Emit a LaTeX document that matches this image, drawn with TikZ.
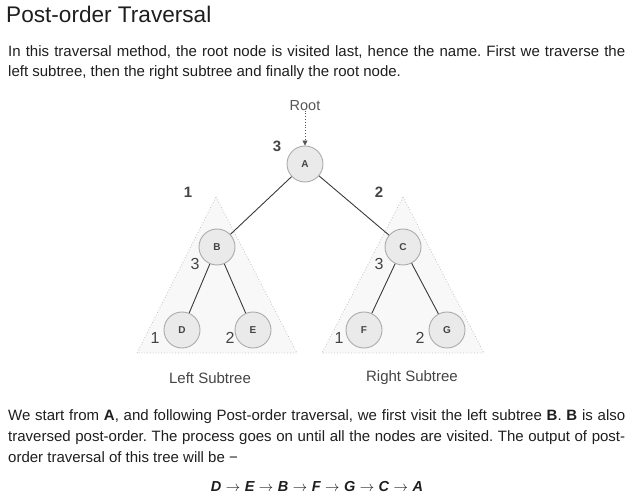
\documentclass[tikz,border=0pt]{standalone}
\usepackage{fontspec}
\setmainfont{Liberation Sans}
\usetikzlibrary{positioning, arrows.meta}
\definecolor{bodytext}{HTML}{1E1E1E}
\definecolor{ringgray}{HTML}{ABABAB}
\definecolor{nodefill}{HTML}{EAEAEA}
\definecolor{trigray}{HTML}{C4C4C4}
\definecolor{trifill}{HTML}{F8F8F8}
\definecolor{edgegray}{HTML}{3A3A3A}
\definecolor{numgray}{HTML}{444444}
\definecolor{rootgray}{HTML}{555555}
\newcommand\nxt{\kern4.5pt$\rightarrow$\kern4.5pt}
\frenchspacing

\begin{document}
\begin{tikzpicture}[x=1pt, y=-1pt,
     node distance = 4mm and 4mm,
       vert/.style = {circle, draw=ringgray, line width=0.9pt, fill=nodefill, minimum size=36pt, inner sep=0pt,
                      font=\fontsize{10}{12}\selectfont\bfseries, text=numgray},
        tri/.style = {draw=trigray, dotted, line width=0.8pt, fill=trifill},
       edge/.style = {draw=edgegray, line width=0.9pt},
        num/.style = {inner sep=0pt, text=numgray, font=\fontsize{16}{18}\selectfont},
       bnum/.style = {num, font=\fontsize{15}{18}\selectfont\bfseries},
        sub/.style = {inner sep=0pt, text=numgray, font=\fontsize{15}{18}\selectfont},
       para/.style = {anchor=base west, inner sep=0pt, text=bodytext, font=\fontsize{15}{21}\selectfont}
                        ]
\useasboundingbox (0,0) rectangle (632,494);
% heading and first paragraph
\node (title) [anchor=base west, inner sep=0pt, text=bodytext, font=\fontsize{22.6}{26}\selectfont] at (6,23) {Post-order Traversal};
\node (p1a) [para] at (8,57) {\makebox[617pt][s]{In this traversal method, the root node is visited last, hence the name. First we traverse the}};
\node (p1b) [para] at (8,77) {left subtree, then the right subtree and finally the root node.};
% subtrees
\draw[tri] (216,197) -- (297,353) -- (137,353) -- cycle;
\draw[tri] (403,197) -- (484,353) -- (322,353) -- cycle;
% tree
\node (A) [vert] at (305,164) {A};
\node (B) [vert] at (217,247) {B};
\node (C) [vert] at (403,247) {C};
\node (D) [vert] at (182,330) {D};
\node (E) [vert] at (253,330) {E};
\node (F) [vert] at (364,330) {F};
\node (G) [vert] at (447,330) {G};
\node (root) [inner sep=0pt, text=rootgray, font=\fontsize{14.5}{16}\selectfont, above=35pt of A] {Root};
\draw[rootgray, dotted, line width=0.8pt, -{Triangle[length=5pt, width=5pt]}] (root) -- (A);
\draw[edge] (A) -- (B);
\draw[edge] (A) -- (C);
\draw[edge] (B) -- (D);
\draw[edge] (B) -- (E);
\draw[edge] (C) -- (F);
\draw[edge] (C) -- (G);
% visiting order
\node (nA) [bnum] at (277,146) {3};
\node (nL) [bnum] at (188,192) {1};
\node (nR) [bnum] at (379,192) {2};
\node (nB) [num] at (195,264) {3};
\node (nC) [num] at (379,264) {3};
\node (nD) [num] at (155,338) {1};
\node (nE) [num] at (230,338) {2};
\node (nF) [num] at (339,338) {1};
\node (nG) [num] at (420,338) {2};
\node (left)  [sub] at (210,378) {Left Subtree};
\node (right) [sub] at (412,378) {Right Subtree};
% second paragraph
\node (p2a) [para] at (8,420) {\makebox[617pt][s]{We start from \textbf{A}, and following Post-order traversal, we first visit the left subtree \textbf{B}. \textbf{B} is also}};
\node (p2b) [para] at (8,441) {\makebox[617pt][s]{traversed post-order. The process goes on until all the nodes are visited. The output of post-}};
\node (p2c) [para] at (8,462) {order traversal of this tree will be −};
\node (seq) [anchor=base, inner sep=0pt, text=bodytext, font=\fontsize{14.5}{16}\selectfont\bfseries\itshape] at (317,491)
      {D\nxt E\nxt B\nxt F\nxt G\nxt C\nxt A};
\end{tikzpicture}
\end{document}
